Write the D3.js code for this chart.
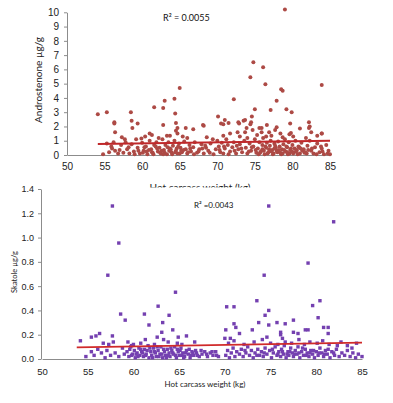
<!DOCTYPE html>
<html><head><meta charset="utf-8">
<script src="https://cdn.jsdelivr.net/npm/d3@7"></script>
<style>
html,body{margin:0;padding:0;background:#fff;}
svg{display:block;font-family:Lato,"Open Sans",sans-serif;}
</style></head>
<body><svg id="c" width="393" height="403"></svg>
<script>
// ---------- DATA ----------
const xTicks = [50,55,60,65,70,75,80,85];
const androTicks = [0,1,2,3,4,5,6,7,8,9,10];
const skatoleTicks = [0,0.2,0.4,0.6,0.8,1.0,1.2,1.4];
const skatoleTickLabels = ["0.0","0.2","0.4","0.6","0.8","1.0","1.2","1.4"];
const androR2 = "R² = 0.0055";
const skatoleR2 = "R² =0.0043";
const androTrend = [[54.1,0.77],[85,1.0]];
const skatoleTrend = [[53.8,0.095],[85,0.135]];

// Androstenone (kg, µg/g)
const androPoints = [
[54.1,2.85],[55.3,3.0],[56.3,2.3],[56.3,2.2],[56.4,1.6],[58.5,3.0],[58.6,2.4],[58.7,1.9],[59.4,2.2],[61.6,3.35],
[62.8,3.3],[63.0,3.8],[62.8,2.1],[64.3,3.95],[65.0,4.7],[64.4,2.9],[64.5,2.25],[64.7,1.9],[65.8,1.9],[66.8,1.8],
[79.0,10.2],[74.8,6.5],[76.1,6.15],[74.4,5.45],[76.4,4.95],[78.5,4.6],[78.7,4.5],[83.9,4.9],[72.2,3.9],[77.9,3.8],
[75.0,3.2],[77.1,3.15],[79.2,3.2],[79.9,3.0],[74.6,2.7],[70.1,2.7],[79.7,2.2],[82.2,2.3],[82.2,1.9],[83.9,1.5],
[68.2,2.05],[71.0,2.45],[70.5,2.2],[72.8,2.3],[73.5,2.4],[74.5,2.3],[73.9,1.9],[76.6,2.1],[77.9,1.95],[75.9,1.9],
[68.1,2.1],[70.8,2.15],[71.5,2.25],[72.9,2.2],[73.7,2.45],[74.4,2.15],[72.7,1.6],[73.7,1.6],[74.7,1.75],[75.6,1.9],
[75.9,1.6],[76.9,1.6],[77.7,1.75],[78.4,1.5],[79.8,1.55],[81.0,1.85],[82.3,2.0],[82.5,1.6],[83.9,1.5],[71.7,1.5],
[57.3,1.25],[57.7,1.1],[60.4,1.3],[61.0,1.5],[61.3,1.4],[63.3,1.35],[63.7,1.35],[64.5,1.7],[64.7,1.5],[70.8,1.35],
[66.0,1.2],[68.6,1.25],[73.0,1.3],[74.0,1.2],[76.5,1.3],[77.2,1.35],[78.7,1.25],[80.1,1.3],[81.8,1.2],[83.3,1.35],
[59.9,1.15],[62.2,1.2],[65.4,1.3],[69.4,1.1],[75.3,1.4],[79.6,1.45],
[54.8,0.05],[55.3,0.8],[55.6,0.2],[55.9,0.6],[56.2,0.9],[56.4,0.3],[56.8,0.1],[57.2,0.7],[57.5,0.15],[57.8,0.9],
[58.0,0.4],[58.3,0.1],[58.6,0.75],[58.9,0.25],[59.2,1.1],[59.4,0.5],[59.7,0.1],[60.0,0.85],[60.2,0.3],[60.5,0.6],
[60.7,0.05],[61.0,1.0],[61.2,0.4],[61.4,0.15],[61.6,0.7],[61.9,0.9],[62.1,0.25],[62.3,0.5],[62.5,0.1],[62.7,1.1],
[62.9,0.35],[63.1,0.7],[63.3,0.05],[63.5,0.9],[63.7,0.45],[63.9,0.2],[64.1,0.65],[64.3,1.0],[64.5,0.3],[64.7,0.1],
[64.9,0.8],[65.1,0.5],[65.3,0.2],[65.6,0.95],[65.8,0.4],[66.0,0.1],[66.3,0.7],[66.5,0.25],[66.8,0.55],[67.0,0.9],
[67.3,0.15],[67.6,0.4],[67.9,0.75],[68.2,0.1],[68.5,0.5],[68.8,0.3],[69.1,0.8],[69.5,0.05],[69.8,0.4],[70.0,1.0],
[70.2,0.6],[70.4,0.2],[70.6,0.85],[70.8,0.1],[71.0,0.45],[71.2,1.1],[71.4,0.7],[71.7,0.25],[72.0,0.55],[72.2,0.9],
[72.5,0.1],[72.8,0.4],[73.0,0.75],[73.3,0.2],[73.6,1.0],[73.8,0.5],[74.0,0.1],[74.3,0.8],[74.5,0.3],[74.8,0.6],
[75.0,1.1],[75.2,0.15],[75.4,0.45],[75.6,0.9],[75.8,0.25],[76.0,0.7],[76.1,1.2],[76.3,0.05],[76.5,0.5],[76.6,0.85],
[76.8,0.2],[77.0,0.65],[77.1,1.0],[77.3,0.35],[77.5,0.1],[77.6,0.8],[77.8,0.5],[78.0,0.2],[78.1,0.95],[78.3,0.6],
[78.5,0.05],[78.6,0.4],[78.8,0.75],[79.0,1.1],[79.1,0.25],[79.3,0.55],[79.5,0.9],[79.6,0.1],[79.8,0.45],[80.0,0.7],
[80.2,0.2],[80.4,1.0],[80.6,0.35],[80.8,0.6],[81.0,0.1],[81.2,0.85],[81.5,0.4],[81.7,0.2],[82.0,0.65],[82.3,1.0],
[82.5,0.3],[82.8,0.1],[83.0,0.55],[83.3,0.8],[83.6,0.2],[83.9,0.45],[84.2,0.05],[84.5,0.7],[84.8,0.3],[85.0,0.05],
[59.0,0.05],[59.5,0.3],[60.1,0.15],[60.9,0.35],[61.5,0.05],[62.0,0.45],[62.6,0.3],[63.0,0.15],[63.6,0.3],[64.0,0.05],
[64.6,0.45],[65.0,0.1],[65.5,0.35],[66.1,0.2],[66.9,0.05],[67.5,0.25],[68.0,0.45],[69.0,0.15],[70.3,0.35],[71.5,0.05],
[72.3,0.3],[73.2,0.45],[74.2,0.25],[75.1,0.35],[75.5,0.05],[76.2,0.3],[76.9,0.4],[77.4,0.05],[77.9,0.3],[78.4,0.15],
[78.9,0.35],[79.4,0.05],[79.9,0.25],[80.3,0.45],[80.7,0.05],[81.3,0.3],[81.9,0.1],[82.6,0.45],[83.2,0.05],[84.0,0.25],
[84.7,0.1],[60.3,0.55],[61.8,0.6],[63.4,0.55],[64.8,0.6],[66.4,0.45],[68.4,0.65],[70.9,0.6],[72.6,0.65],[74.6,0.55],
[76.4,0.6],[77.7,0.65],[79.2,0.6],[80.9,0.55],[82.1,0.35],[83.8,0.6],[56.0,0.45],[57.0,0.35],[58.2,0.55],
[75.7,0.15],[76.0,0.4],[76.7,0.1],[77.2,0.25],[77.6,0.45],[78.2,0.35],[78.7,0.1],[79.3,0.2],[79.7,0.35],[80.1,0.1],
[80.5,0.25],[81.1,0.45],[81.6,0.15],[61.3,0.2],[62.4,0.15],[63.8,0.4],[64.4,0.2],[65.2,0.3],[60.6,0.25],[62.8,0.05]
];

// Skatole (kg, µg/g)
const skatolePoints = [
[57.7,1.26],[58.4,0.955],[57.2,0.69],[64.6,0.55],[62.7,0.435],[58.6,0.37],[59.1,0.32],[61.2,0.37],[61.7,0.28],[63.9,0.36],
[63.2,0.30],[63.1,0.22],[64.3,0.24],[65.8,0.19],[54.2,0.15],[55.4,0.18],[55.9,0.19],[56.3,0.21],[57.7,0.19],[57.8,0.14],
[62.6,0.18],[63.3,0.16],[64.9,0.18],
[74.8,1.26],[81.9,1.13],[79.1,0.79],[74.3,0.69],[70.2,0.43],[71.0,0.43],[73.5,0.48],[74.8,0.40],[74.4,0.36],[80.4,0.48],
[79.6,0.44],[80.2,0.34],[80.8,0.26],[81.3,0.26],[81.3,0.21],[73.7,0.30],[74.8,0.28],[75.7,0.30],[76.6,0.29],[77.5,0.32],
[71.0,0.29],[71.2,0.26],[71.6,0.21],[70.1,0.24],[73.0,0.24],[76.1,0.22],[76.1,0.20],[77.5,0.22],[78.0,0.21],[78.8,0.24],
[79.1,0.24],[74.6,0.18],[70.0,0.17],[70.6,0.17],[82.3,0.11],[83.4,0.11],[83.9,0.09],
[54.8,0.02],[55.4,0.06],[55.7,0.03],[56.1,0.08],[56.5,0.05],[56.9,0.01],[57.1,0.07],[57.5,0.03],[58.0,0.05],[58.4,0.02],
[58.8,0.09],[59.0,0.04],
[59.3,0.06],[59.5,0.02],[59.7,0.10],[59.9,0.04],[60.1,0.07],[60.2,0.01],[60.4,0.05],[60.6,0.09],[60.7,0.03],[60.9,0.06],
[61.1,0.02],[61.2,0.08],[61.4,0.04],[61.6,0.11],[61.7,0.01],[61.9,0.06],[62.0,0.03],[62.2,0.09],[62.4,0.05],[62.5,0.02],
[62.7,0.07],[62.9,0.04],[63.0,0.10],[63.2,0.01],[63.4,0.06],[63.5,0.03],[63.7,0.08],[63.9,0.05],[64.0,0.02],[64.2,0.07],
[64.4,0.04],[64.5,0.10],[64.7,0.01],[64.9,0.06],[65.0,0.03],[65.2,0.09],[65.4,0.05],[65.6,0.02],[65.8,0.07],[66.0,0.04],
[66.2,0.01],[66.4,0.06],[66.6,0.03],[66.9,0.05],[67.2,0.02],[67.5,0.04],[67.8,0.06],[68.1,0.02],[68.4,0.05],[68.7,0.03],
[69.0,0.06],[69.3,0.02],
[59.6,0.08],[60.0,0.12],[60.5,0.02],[61.0,0.05],[61.5,0.07],[62.1,0.01],[62.6,0.10],[63.1,0.04],[63.6,0.01],[64.1,0.09],
[64.6,0.03],[65.1,0.07],[65.5,0.01],[66.1,0.08],[66.5,0.05],
[59.8,0.03],[60.3,0.04],[60.8,0.08],[61.3,0.03],[61.8,0.09],[62.3,0.06],[62.8,0.02],[63.3,0.08],[63.8,0.03],[64.3,0.05],
[64.8,0.08],[65.3,0.03],[65.7,0.05],[66.3,0.03],[66.8,0.07],[67.0,0.03],[67.4,0.07],[68.0,0.04],[68.6,0.06],[69.1,0.03],
[70.1,0.03],[70.3,0.07],[70.5,0.01],[70.7,0.05],[70.9,0.09],[71.1,0.02],[71.3,0.06],[71.6,0.04],[71.8,0.08],[72.0,0.02],
[72.3,0.05],[72.5,0.10],[72.7,0.03],[72.9,0.07],[73.1,0.01],[73.3,0.05],[73.6,0.08],[73.8,0.03],[74.0,0.06],[74.2,0.02],
[74.4,0.09],[74.6,0.04],[74.9,0.07],[75.1,0.01],[75.3,0.05],[75.5,0.10],[75.7,0.03],[75.9,0.06],[76.1,0.02],[76.2,0.08],
[76.4,0.04],[76.5,0.11],[76.7,0.01],[76.9,0.06],[77.0,0.03],[77.2,0.09],[77.4,0.05],[77.5,0.02],[77.7,0.07],[77.9,0.04],
[78.0,0.10],[78.2,0.01],[78.4,0.06],[78.6,0.03],[78.8,0.08],[79.0,0.05],[79.2,0.02],[79.4,0.07],[79.6,0.04],[79.8,0.01],
[80.0,0.06],[80.2,0.03],[80.4,0.09],[80.6,0.05],[80.8,0.02],[81.0,0.07],[81.2,0.04],[81.5,0.01],[81.7,0.06],[82.0,0.03],
[82.2,0.08],[82.5,0.02],[82.8,0.05],[83.1,0.03],[83.4,0.07],[83.7,0.02],[84.0,0.05],[84.3,0.01],[84.6,0.04],[85.0,0.02],
[75.2,0.08],[75.8,0.04],[76.3,0.06],[76.8,0.04],[77.1,0.06],[77.6,0.04],[78.1,0.05],[78.5,0.09],[78.9,0.03],[79.3,0.05],
[79.7,0.07],[80.3,0.05],[80.9,0.04],[81.3,0.08],[81.9,0.05],[72.2,0.07],[73.5,0.03],[74.3,0.05],
[70.4,0.13],[71.0,0.15],[72.1,0.12],[73.2,0.14],[74.1,0.16],[75.0,0.13],[75.8,0.12],[76.3,0.17],[76.6,0.14],[77.3,0.13],
[78.1,0.16],[78.7,0.12],[79.3,0.14],[80.1,0.13],[80.7,0.15],[81.4,0.12],[82.7,0.14],[84.4,0.13],
[59.4,0.14],[60.8,0.13],[61.3,0.16],[62.3,0.12],[63.8,0.14],[64.8,0.13],[65.3,0.12],[66.7,0.14],[59.8,0.11],[57.3,0.12],[56.7,0.13]
];

// ---------- DRAW ----------
const svg = d3.select("#c");
const axisColor = "#8c8c8c";

function styleAxis(g){
  g.select(".domain").attr("stroke", axisColor).attr("stroke-width",1);
  g.selectAll(".tick line").attr("stroke", axisColor);
  g.selectAll(".tick text").attr("fill","#222");
}

// ---- Top panel: Androstenone ----
const xA = d3.scaleLinear().domain([50,85]).range([67,330]);
const yA = d3.scaleLinear().domain([0,10]).range([155,12.3]);

svg.append("g").attr("transform","translate(0,155)")
  .call(d3.axisBottom(xA).tickValues(xTicks).tickSize(0).tickPadding(8).tickSizeOuter(0))
  .call(styleAxis).call(g=>g.selectAll("text").attr("font-size",10));
svg.append("g").attr("transform","translate(67,0)")
  .call(d3.axisLeft(yA).tickValues(androTicks).tickSize(3).tickPadding(5).tickSizeOuter(0))
  .call(styleAxis).call(g=>g.selectAll("text").attr("font-size",10));

svg.append("g").selectAll("circle").data(androPoints).join("circle")
  .attr("cx",d=>xA(d[0])).attr("cy",d=>yA(d[1])).attr("r",2)
  .attr("fill","#ad4a45");

svg.append("line")
  .attr("x1",xA(androTrend[0][0])).attr("y1",yA(androTrend[0][1]))
  .attr("x2",xA(androTrend[1][0])).attr("y2",yA(androTrend[1][1]))
  .attr("stroke","#c0282a").attr("stroke-width",1.8);

svg.append("text").attr("x",163).attr("y",21).attr("font-size",9).attr("fill","#111").text(androR2);
svg.append("text").attr("transform","translate(42,80) rotate(-90)").attr("text-anchor","middle")
  .attr("font-size",10).attr("fill","#222").text("Androstenone µg/g");

svg.append("clipPath").attr("id","cut").append("rect").attr("x",0).attr("y",0).attr("width",393).attr("height",187.5);
svg.append("text").attr("clip-path","url(#cut)").attr("x",200).attr("y",190.5).attr("text-anchor","middle")
  .attr("font-size",10).attr("fill","#222").text("Hot carcass weight (kg)");

// ---- Bottom panel: Skatole ----
const xS = d3.scaleLinear().domain([50,85]).range([42,362]);
const yS = d3.scaleLinear().domain([0,1.4]).range([359,189]);

svg.append("g").attr("transform","translate(0,359)")
  .call(d3.axisBottom(xS).tickValues(xTicks).tickSize(0).tickPadding(9).tickSizeOuter(0))
  .call(styleAxis).call(g=>g.selectAll("text").attr("font-size",9.5));
svg.append("g").attr("transform","translate(41,0)")
  .call(d3.axisLeft(yS).tickValues(skatoleTicks).tickFormat((d,i)=>skatoleTickLabels[i]).tickSize(3).tickPadding(4).tickSizeOuter(0))
  .call(styleAxis).call(g=>g.selectAll("text").attr("font-size",9));

svg.append("g").selectAll("rect").data(skatolePoints).join("rect")
  .attr("x",d=>xS(d[0])-1.7).attr("y",d=>yS(d[1])-1.7).attr("width",3.4).attr("height",3.4)
  .attr("fill","#7440b0");

svg.append("line")
  .attr("x1",xS(skatoleTrend[0][0])).attr("y1",yS(skatoleTrend[0][1]))
  .attr("x2",xS(skatoleTrend[1][0])).attr("y2",yS(skatoleTrend[1][1]))
  .attr("stroke","#d02a2a").attr("stroke-width",1.8);

svg.append("text").attr("x",194).attr("y",208).attr("font-size",8).attr("fill","#111").text(skatoleR2);
svg.append("text").attr("transform","translate(17,272) rotate(-90)").attr("text-anchor","middle")
  .attr("font-size",7.5).attr("fill","#222").text("Skatole µg/g");
svg.append("text").attr("x",205).attr("y",387).attr("text-anchor","middle")
  .attr("font-size",8).attr("fill","#222").text("Hot carcass weight (kg)");
</script></body></html>
